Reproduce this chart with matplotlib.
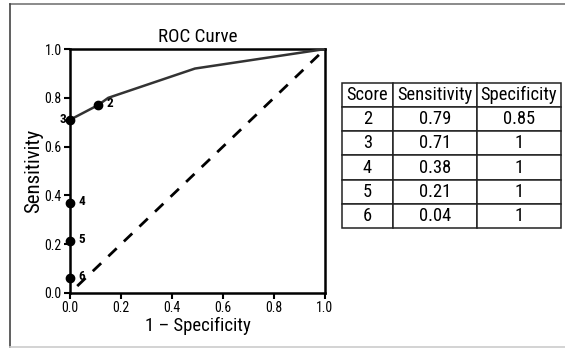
import matplotlib
matplotlib.use("Agg")
import matplotlib.pyplot as plt
from matplotlib.lines import Line2D
from matplotlib import font_manager

names = {f.name for f in font_manager.fontManager.ttflist}
cands = ['Roboto Condensed', 'Liberation Sans Narrow', 'DejaVu Sans Condensed', 'Liberation Sans']
fam = [c for c in cands if c in names][:1] + ['DejaVu Sans']
plt.rcParams['font.family'] = fam

# ---- data ----
scores = [2, 3, 4, 5, 6]
sensitivity = [0.79, 0.71, 0.38, 0.21, 0.04]
specificity = ["0.85", "1", "1", "1", "1"]

# points as drawn on the ROC plot
point_fpr = [0.11, 0.0, 0.0, 0.0, 0.0]
point_tpr = [0.77, 0.71, 0.37, 0.215, 0.06]

# ROC curve polyline
roc_fpr = [0.0, 0.11, 0.15, 0.49, 1.0]
roc_tpr = [0.71, 0.77, 0.80, 0.92, 1.0]

chance = [0.0, 1.0]

ticks = [0.0, 0.2, 0.4, 0.6, 0.8, 1.0]
tick_labels = ["0.0", "0.2", "0.4", "0.6", "0.8", "1.0"]

col_labels = ["Score", "Sensitivity", "Specificity"]

fig = plt.figure(figsize=(5.65, 3.49), dpi=100)

# outer border (cropped on the right)
fig.add_artist(Line2D([0.0177, 1.0], [0.9885, 0.9885], transform=fig.transFigure, color="#777777", lw=1.2))
fig.add_artist(Line2D([0.0177, 0.0177], [0.9885, 0.006], transform=fig.transFigure, color="#444444", lw=1.2))
fig.add_artist(Line2D([0.0177, 1.0], [0.006, 0.006], transform=fig.transFigure, color="#cccccc", lw=1.2))

ax = fig.add_axes([0.1239, 0.1605, 0.4513, 0.699])
ax.plot(chance, chance, color="black", lw=2.0, linestyle=(4.15, (4.15, 3.6)), zorder=2)
ax.plot(roc_fpr, roc_tpr, color="#333333", lw=1.8, zorder=3, solid_capstyle="round")
ax.plot(point_fpr, point_tpr, "o", color="black", ms=6, zorder=4, clip_on=False)

for s, x, y in zip(scores, point_fpr, point_tpr):
    if s == 3:
        ax.annotate(str(s), (x, y), xytext=(-3, 0), textcoords="offset points",
                    ha="right", va="center", fontsize=9.5, fontweight="bold")
    else:
        ax.annotate(str(s), (x, y), xytext=(6, 1), textcoords="offset points",
                    ha="left", va="center", fontsize=9.5, fontweight="bold")

ax.set_xlim(0, 1)
ax.set_ylim(0, 1)
ax.set_xticks(ticks)
ax.set_xticklabels(tick_labels)
ax.set_yticks(ticks)
ax.set_yticklabels(tick_labels)
ax.tick_params(direction="out", length=4, width=1.5, labelsize=10, pad=2, colors="black")
for sp in ax.spines.values():
    sp.set_linewidth(1.8)
    sp.set_color("black")
ax.set_title("ROC Curve", fontsize=13.7, pad=5)
ax.set_xlabel("1 \u2013 Specificity", fontsize=13.5, labelpad=1)
ax.set_ylabel("Sensitivity", fontsize=15, labelpad=1)

# table
tax = fig.add_axes([0.6053, 0.3467, 0.3876, 0.4155])
tax.axis("off")
cell_text = [[str(s), f"{v:.2f}", sp] for s, v, sp in zip(scores, sensitivity, specificity)]
tbl = tax.table(cellText=cell_text, colLabels=col_labels, cellLoc="center",
                colWidths=[51, 84, 84], bbox=[0, 0, 1, 1])
tbl.auto_set_font_size(False)
for (r, c), cell in tbl.get_celld().items():
    cell.set_linewidth(1.1)
    cell.set_edgecolor("#222222")
    cell.get_text().set_fontsize(13.3)

fig.savefig("out.png", dpi=100)
